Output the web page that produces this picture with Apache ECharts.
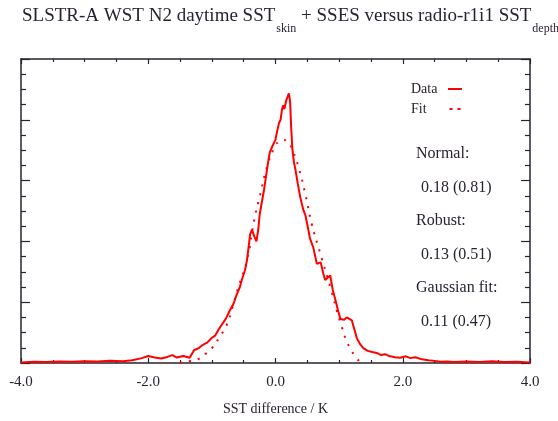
<!DOCTYPE html>
<html>
<head>
<meta charset="utf-8">
<script src="https://cdn.jsdelivr.net/npm/echarts@6/dist/echarts.min.js"></script>
<style>
  html, body { margin: 0; padding: 0; background: #fff; }
  #chart { width: 558px; height: 421px; }
</style>
</head>
<body>
<div id="chart"></div>
<script>
const SERIF = 'Liberation Serif, DejaVu Serif, serif'
const INK = '#2a2230'

// histogram of SST differences (arbitrary count units, 0-100)
const dataX = [-4.00, -3.80, -3.60, -3.40, -3.20, -3.00, -2.80, -2.60, -2.40, -2.25, -2.10, -2.00, -1.90, -1.80, -1.70, -1.62, -1.55, -1.45, -1.35, -1.28,
  -1.20, -1.14, -1.07, -1.00, -0.95, -0.90, -0.85, -0.78, -0.72, -0.66, -0.61, -0.56, -0.53, -0.48, -0.45, -0.42, -0.40, -0.37, -0.33, -0.30,
  -0.27, -0.25, -0.22, -0.18, -0.15, -0.12, -0.09, -0.06, -0.03, 0.00, 0.02, 0.055, 0.08, 0.10, 0.12, 0.14, 0.17, 0.21, 0.23, 0.245,
  0.265, 0.29, 0.31, 0.35, 0.39, 0.44, 0.47, 0.51, 0.54, 0.595, 0.65, 0.71, 0.75, 0.78, 0.86, 0.90, 0.94, 0.98, 1.02, 1.08,
  1.12, 1.20, 1.24, 1.28, 1.33, 1.38, 1.45, 1.52, 1.59, 1.66, 1.72, 1.80, 1.88, 1.96, 2.05, 2.12, 2.20, 2.30, 2.40, 2.50,
  2.60, 2.70, 2.80, 2.90, 3.00, 3.20, 3.40, 3.60, 3.80, 4.00]
const dataY = [0.2, 0.4, 0.3, 0.5, 0.4, 0.6, 0.5, 0.7, 0.6, 0.9, 1.6, 2.3, 1.8, 1.5, 2.0, 2.6, 1.8, 2.3, 1.7, 4.2,
  5.0, 6.0, 6.8, 8.3, 9.0, 10.8, 12.4, 14.6, 17.2, 19.5, 22.5, 25.0, 27.3, 30.5, 33.6, 38.5, 42.2, 43.8, 41.5, 40.0,
  44.0, 48.6, 52.3, 57.0, 61.3, 65.5, 69.3, 70.8, 70.4, 73.5, 75.7, 78.9, 80.0, 83.2, 84.8, 83.5, 86.5, 88.7, 86.0, 78.0,
  70.4, 66.0, 64.0, 59.0, 54.4, 50.2, 48.6, 44.5, 41.1, 37.9, 32.6, 33.1, 29.5, 27.3, 28.8, 24.0, 20.9, 17.5, 14.5, 14.2,
  15.0, 14.0, 11.0, 8.1, 6.2, 4.9, 4.0, 3.6, 3.3, 2.6, 2.9, 2.2, 1.9, 1.7, 2.2, 1.6, 1.9, 1.2, 0.9, 0.7,
  0.4, 0.5, 0.3, 0.4, 0.5, 0.3, 0.6, 0.3, 0.4, 0.2]

// gaussian fit curve
const fitX = [-1.50, -1.35, -1.22, -1.10, -1.00, -0.88, -0.77, -0.68, -0.59, -0.45, -0.34, -0.24, -0.12, 0.00, 0.07, 0.12, 0.20, 0.27, 0.37, 0.475,
  0.57, 0.70, 0.86, 1.02, 1.17, 1.33]
const fitY = [0.1, 0.6, 1.2, 3.0, 4.9, 8.5, 12.4, 18.0, 24.6, 33.6, 46.4, 55.5, 65.5, 71.5, 73.1, 73.4, 72.5, 69.9, 63.8, 55.0,
  45.7, 36.3, 25.1, 13.4, 4.9, 0.3]

const statLabels = ['Normal:', 'Robust:', 'Gaussian fit:']
const statValues = ['0.18 (0.81)', '0.13 (0.51)', '0.11 (0.47)']

const chart = echarts.init(document.getElementById('chart'))

const statGraphics = []
statLabels.forEach((t, i) => {
  statGraphics.push({
    type: 'text', left: 416, top: 146 + i * 67,
    style: { text: t, font: '16px ' + SERIF, fill: INK }
  })
  statGraphics.push({
    type: 'text', left: 421, top: 180 + i * 67,
    style: { text: statValues[i], font: '16px ' + SERIF, fill: INK }
  })
})

const xTicks = {
  axisLine: { show: true, onZero: false, lineStyle: { color: INK, width: 1.5 } },
  axisTick: { show: true, inside: true, length: 5, lineStyle: { color: INK, width: 1.2 } },
  minorTick: { show: true, splitNumber: 4, length: 3, lineStyle: { color: INK, width: 1.2 } },
  splitLine: { show: false }
}
const yTicks = {
  type: 'value', min: 0, max: 100, interval: 20,
  axisLine: { show: true, onZero: false, lineStyle: { color: INK, width: 1.5 } },
  axisTick: { show: true, inside: true, length: 9, lineStyle: { color: INK, width: 1.2 } },
  minorTick: { show: true, splitNumber: 4, length: 5, lineStyle: { color: INK, width: 1.2 } },
  axisLabel: { show: false },
  splitLine: { show: false }
}

chart.setOption({
  animation: false,
  backgroundColor: '#fff',
  title: {
    text: '{m|SLSTR-A WST N2 daytime SST}{g| }{s|skin}{m| + SSES versus radio-r1i1 SST}{g| }{s|depth}',
    left: 17, top: 2,
    textStyle: {
      fontWeight: 'normal',
      rich: {
        m: { fontFamily: SERIF, fontSize: 19, fontWeight: 'normal', color: INK, lineHeight: 20, verticalAlign: 'top' },
        g: { fontFamily: SERIF, fontSize: 4, lineHeight: 4, verticalAlign: 'top' },
        s: { fontFamily: SERIF, fontSize: 12, fontWeight: 'normal', color: INK, lineHeight: 28, verticalAlign: 'bottom' }
      }
    }
  },
  grid: { left: 21, right: 28, top: 59, bottom: 49 },
  legend: {
    orient: 'vertical', left: 406, top: 77, align: 'right',
    itemWidth: 14, itemHeight: 2, itemGap: 6,
    textStyle: {
      rich: { n: { fontFamily: SERIF, fontSize: 14, color: INK, width: 32, align: 'left', lineHeight: 16 } }
    },
    formatter: name => '{n|' + name + '}',
    data: [
      { name: 'Data', icon: 'rect', itemStyle: { color: '#ff0000' } },
      { name: 'Fit', icon: 'path://M0,0h3v2h-3z M8,0h3v2h-3z', itemStyle: { color: '#ff0000' } }
    ]
  },
  xAxis: [
    Object.assign({
      type: 'value', min: -4, max: 4, interval: 2, position: 'bottom',
      name: 'SST difference / K', nameLocation: 'middle', nameGap: 39,
      nameTextStyle: { fontFamily: SERIF, fontSize: 14, color: INK },
      axisLabel: { margin: 12, fontFamily: SERIF, fontSize: 15, color: INK, formatter: v => v.toFixed(1) }
    }, xTicks),
    Object.assign({
      type: 'value', min: -4, max: 4, interval: 2, position: 'top',
      axisLabel: { show: false }
    }, xTicks)
  ],
  yAxis: [
    Object.assign({ position: 'left' }, yTicks),
    Object.assign({ position: 'right' }, yTicks)
  ],
  series: [
    {
      name: 'Data', type: 'line', symbol: 'none',
      data: dataX.map((x, i) => [x, dataY[i]]),
      lineStyle: { color: '#ff0000', width: 2 },
      itemStyle: { color: '#ff0000' }
    },
    {
      name: 'Fit', type: 'line', symbol: 'none', smooth: true,
      data: fitX.map((x, i) => [x, fitY[i]]),
      lineStyle: { color: '#ff0000', width: 2, type: [2, 7] },
      itemStyle: { color: '#ff0000' }
    }
  ],
  graphic: statGraphics
})
</script>
</body>
</html>
